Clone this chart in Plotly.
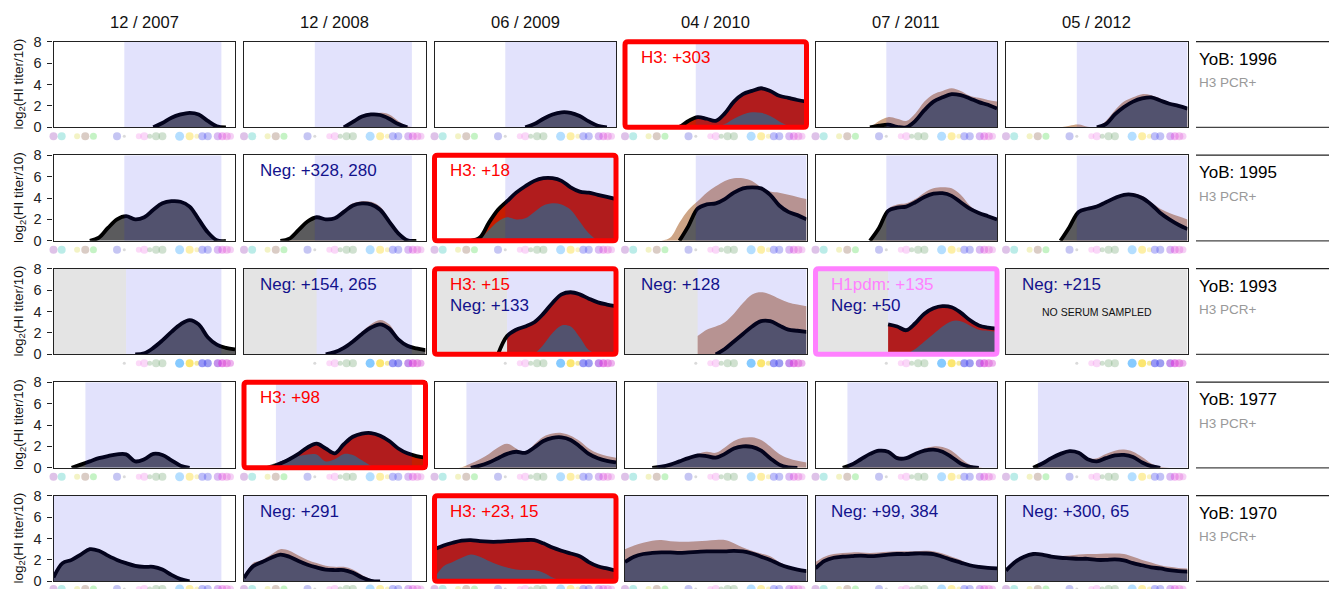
import plotly.graph_objects as go

# ---------------------------------------------------------------- data
SAMPLE_DATES = ["12 / 2007", "12 / 2008", "06 / 2009", "04 / 2010", "07 / 2011", "05 / 2012"]
BIRTH_YEARS = [1996, 1995, 1993, 1977, 1970]
PCR_STATUS = ["H3 PCR+", "H3 PCR+", "H3 PCR+", "H3 PCR+", "H3 PCR+"]

# strain axis (ordered by isolation), 0 = oldest strain, 1 = newest
STRAIN_POS = [0.00, 0.05, 0.10, 0.15, 0.20, 0.25, 0.30, 0.35, 0.40, 0.45, 0.50,
              0.55, 0.60, 0.65, 0.70, 0.75, 0.80, 0.85, 0.90, 0.95, 1.00]

# log2(HI titer/10) landscapes, one list per sample date
TITER_1996 = [
    [0, 0, 0, 0, 0, 0, 0, 0, 0, 0, 0, 0, 0.4, 0.9, 1.2, 1.35, 1.2, 0.6, 0.1, 0, 0],
    [0, 0, 0, 0, 0, 0, 0, 0, 0, 0, 0, 0, 0.5, 1.0, 1.2, 1.15, 0.8, 0.3, 0, 0, 0],
    [0, 0, 0, 0, 0, 0, 0, 0, 0, 0, 0, 0.3, 0.8, 1.2, 1.4, 1.35, 1.05, 0.55, 0.15, 0, 0],
    [0, 0, 0, 0, 0, 0, 0.05, 0.6, 0.95, 0.8, 0.6, 1.3, 2.4, 3.1, 3.4, 3.65, 3.4, 2.95, 2.75, 2.55, 2.4],
    [0, 0, 0, 0, 0, 0, 0, 0.15, 0.25, 0.05, 0, 0.6, 1.6, 2.4, 2.8, 3.1, 3.0, 2.7, 2.35, 2.1, 1.75],
    [0, 0, 0, 0, 0, 0, 0, 0, 0, 0, 0, 0.3, 1.2, 1.9, 2.4, 2.7, 2.8, 2.5, 2.2, 2.0, 1.75],
]
TITER_1995 = [
    [0, 0, 0, 0, 0, 0.3, 1.2, 2.0, 2.3, 2.0, 2.2, 2.9, 3.5, 3.7, 3.65, 3.2, 2.0, 0.8, 0.05, 0, 0],
    [0, 0, 0, 0, 0, 0.2, 1.0, 1.8, 2.2, 2.0, 2.1, 2.7, 3.3, 3.5, 3.4, 2.9, 1.8, 0.7, 0.05, 0, 0],
    [0, 0, 0, 0, 0, 0.3, 1.7, 2.9, 3.7, 4.5, 5.1, 5.6, 5.85, 5.85, 5.6, 5.0, 4.6, 4.5, 4.3, 4.1, 3.9],
    [0, 0, 0, 0, 0, 0, 0, 1.4, 3.0, 3.4, 3.5, 3.9, 4.5, 4.9, 5.0, 4.9, 4.3, 3.3, 2.7, 2.4, 2.0],
    [0, 0, 0, 0, 0, 0, 0, 1.2, 2.8, 3.1, 3.2, 3.6, 4.1, 4.4, 4.45, 4.2, 3.6, 3.0, 2.6, 2.3, 2.0],
    [0, 0, 0, 0, 0, 0, 0, 1.3, 2.7, 3.0, 3.2, 3.6, 4.0, 4.3, 4.3, 4.0, 3.4, 2.6, 2.0, 1.5, 1.1],
]
TITER_1993 = [
    [0, 0, 0, 0, 0, 0, 0, 0, 0, 0, 0.1, 0.6, 1.3, 2.1, 2.8, 3.2, 2.8, 1.6, 0.9, 0.6, 0.45],
    [0, 0, 0, 0, 0, 0, 0, 0, 0, 0, 0.2, 0.6, 1.2, 1.9, 2.5, 2.8, 2.4, 1.4, 0.8, 0.55, 0.4],
    [0, 0, 0, 0, 0, 0, 0, 0, 1.7, 2.3, 2.6, 3.0, 3.8, 4.8, 5.6, 5.8, 5.6, 5.2, 4.85, 4.65, 4.5],
    [0, 0, 0, 0, 0, 0, 0, 0, 0, 0, 0, 0.5, 1.2, 1.9, 2.6, 3.1, 3.1, 2.7, 2.3, 2.2, 2.1],
    [None, None, None, None, None, None, None, None, 2.8, 2.6, 2.25, 2.9, 3.8, 4.3, 4.5, 4.4, 3.9, 3.2, 2.7, 2.5, 2.4],
    [None] * 21,
]
TITER_1977 = [
    [0, 0, 0, 0.3, 0.6, 0.9, 1.1, 1.25, 1.25, 0.6, 0.8, 1.3, 1.2, 0.7, 0.2, 0, 0, 0, 0, 0, 0],
    [0, 0, 0, 0.05, 0.4, 0.8, 1.3, 1.9, 2.25, 1.8, 1.35, 2.2, 2.9, 3.2, 3.25, 3.0, 2.5, 1.8, 1.35, 1.1, 0.95],
    [0, 0, 0, 0, 0, 0.2, 0.5, 0.9, 1.3, 1.5, 1.4, 1.9, 2.5, 2.8, 2.85, 2.6, 2.0, 1.3, 0.9, 0.65, 0.5],
    [0, 0, 0, 0, 0.1, 0.3, 0.6, 0.9, 1.15, 1.1, 0.95, 1.3, 1.8, 2.0, 1.95, 1.6, 0.9, 0.3, 0.05, 0, 0],
    [0, 0, 0, 0, 0.3, 0.8, 1.3, 1.6, 1.5, 0.9, 0.9, 1.3, 1.6, 1.7, 1.5, 1.0, 0.4, 0.1, 0, 0, 0],
    [0, 0, 0, 0, 0.4, 0.9, 1.3, 1.55, 1.4, 0.8, 0.6, 0.9, 1.15, 1.2, 1.0, 0.5, 0.15, 0, 0, 0, 0],
]
TITER_1970 = [
    [0.35, 1.7, 2.0, 2.5, 3.0, 2.85, 2.4, 2.0, 1.7, 1.45, 1.35, 1.35, 1.1, 0.6, 0.2, 0, 0, 0, 0, 0, 0],
    [0.3, 1.4, 1.8, 2.2, 2.5, 2.3, 1.9, 1.55, 1.3, 1.1, 1.05, 1.05, 0.8, 0.35, 0.05, 0, 0, 0, 0, 0, 0],
    [3.0, 3.35, 3.6, 3.8, 3.85, 3.75, 3.7, 3.7, 3.75, 3.8, 3.85, 3.85, 3.55, 3.15, 2.85, 2.6, 2.35, 1.8, 1.4, 1.2, 1.0],
    [1.8, 2.3, 2.55, 2.65, 2.7, 2.7, 2.65, 2.7, 2.75, 2.8, 2.8, 2.8, 2.85, 2.8, 2.6, 2.3, 2.0, 1.6, 1.3, 1.1, 0.95],
    [1.2, 1.9, 2.2, 2.3, 2.35, 2.4, 2.35, 2.4, 2.5, 2.55, 2.55, 2.6, 2.6, 2.55, 2.3, 2.0, 1.75, 1.5, 1.35, 1.25, 1.2],
    [1.0, 1.8, 2.3, 2.55, 2.5, 2.3, 2.2, 2.15, 2.1, 2.1, 2.0, 2.0, 2.05, 1.95, 1.7, 1.5, 1.3, 1.2, 1.05, 0.95, 0.9],
]
TITERS = [TITER_1996, TITER_1995, TITER_1993, TITER_1977, TITER_1970]

# pre-infection landscape for the 06/2009 sample of the 1993 participant
PRIOR_1993_0609 = [0, 0, 0, 0, 0, 0, 0, 0, 0, 0, 0, 0, 0.9, 2.0, 2.7, 2.6, 1.6, 0.4, 0, 0, 0]

# strains circulating within each participant's lifetime
LIFETIME_START = [0.39, 0.39, 0.40, 0.176, 0.0]
SAMPLE_STRAIN_END = [0.925, 0.925, 1.0, 1.0, 1.0, 1.0]
UNSAMPLED_ROW = 2          # 1993 participant: strains before the cohort range not tested
UNSAMPLED_END = 0.40
NO_SERUM_PANEL = (2, 5)

INFECTED_PANEL = [(0, 3), (1, 2), (2, 2), (2, 4), (3, 1), (4, 2)]
INFECTED_SUBTYPE = ["H3", "H3", "H3", "H1pdm", "H3", "H3"]

NOTE_PANEL = [(0, 3), (1, 1), (1, 2), (2, 1), (2, 2), (2, 2), (2, 3), (2, 4), (2, 4),
              (2, 5), (3, 1), (4, 1), (4, 2), (4, 4), (4, 5)]
NOTE_TEXT = ["H3: +303", "Neg: +328, 280", "H3: +18", "Neg: +154, 265", "H3: +15", "Neg: +133",
             "Neg: +128", "H1pdm: +135", "Neg: +50", "Neg: +215", "H3: +98", "Neg: +291",
             "H3: +23, 15", "Neg: +99, 384", "Neg: +300, 65"]
NOTE_LINE = [0, 0, 0, 0, 0, 1, 0, 0, 1, 0, 0, 0, 0, 0, 0]

# strain isolation markers under each panel
DOT_POS = [0.0, 0.045, 0.13, 0.175, 0.22, 0.35, 0.39, 0.47, 0.50, 0.53, 0.565, 0.60,
           0.695, 0.75, 0.79, 0.82, 0.85, 0.905, 0.93, 0.955, 0.975, 1.005]
DOT_COLOR = [(160, 80, 190), (60, 200, 190), (220, 220, 90), (150, 110, 90), (90, 220, 90),
             (90, 90, 220), (150, 150, 150), (245, 150, 235), (240, 140, 235), (120, 170, 120),
             (120, 170, 120), (120, 170, 120), (40, 160, 255), (250, 210, 0), (240, 220, 80),
             (70, 70, 240), (80, 80, 230), (150, 60, 220), (220, 50, 220), (220, 90, 210),
             (225, 120, 225), (180, 140, 220)]
DOT_SIZE = [8, 8, 6, 8, 7, 8, 3, 6, 8, 5, 8, 8, 9, 8, 5, 8, 8, 8, 8, 8, 7, 5]

# ---------------------------------------------------------------- style
W, H = 1329, 589
COL_LEFT0, COL_STEP, PANEL_W = 53.5, 190.5, 181.5
ROW_TOP0, ROW_STEP, PANEL_H = 41.7, 113.5, 85.6
FONT = "Liberation Sans, Arial, sans-serif"

LAVENDER = "rgba(20,20,230,0.125)"
UNSAMPLED_GREY = "#e4e4e4"
CURRENT_FILL = "rgb(91,91,93)"
PRIOR_FILL = "rgb(206,165,134)"
BOOST_FILL = "rgb(199,29,0)"
SUBTYPE_COLOR = {"H3": "#ff0000", "H1pdm": "#ff80ff", "Neg": "#12128c"}


def px_x(x):
    return x / W


def px_y(y):
    return 1 - y / H


def curve_points(vals, x_min=None):
    xs, ys = [], []
    for x, v in zip(STRAIN_POS, vals):
        if v is None or (x_min is not None and x < x_min - 1e-9):
            continue
        xs.append(x)
        ys.append(v)
    if not ys:
        return xs, ys
    i0 = 0
    while i0 + 1 < len(ys) and ys[i0] == 0 and ys[i0 + 1] == 0:
        i0 += 1
    i1 = len(ys) - 1
    while i1 - 1 >= 0 and ys[i1] == 0 and ys[i1 - 1] == 0:
        i1 -= 1
    return xs[i0:i1 + 1], ys[i0:i1 + 1]


def rounded_rect(x0, y0, x1, y1, rad):
    """SVG path (paper coords) of a rectangle given in pixels, with rounded corners."""
    rx, ry = rad / W, rad / H
    X0, X1 = px_x(x0), px_x(x1)
    Y0, Y1 = px_y(y0), px_y(y1)   # Y0 top, Y1 bottom
    return (f"M {X0 + rx},{Y0} L {X1 - rx},{Y0} Q {X1},{Y0} {X1},{Y0 - ry} "
            f"L {X1},{Y1 + ry} Q {X1},{Y1} {X1 - rx},{Y1} "
            f"L {X0 + rx},{Y1} Q {X0},{Y1} {X0},{Y1 + ry} "
            f"L {X0},{Y0 - ry} Q {X0},{Y0} {X0 + rx},{Y0} Z")


fig = go.Figure()
layout = {}
shapes = []
annotations = []

for r in range(5):
    top = ROW_TOP0 + ROW_STEP * r
    bottom = top + PANEL_H
    for c in range(6):
        n = r * 6 + c + 1
        xa = "x" if n == 1 else f"x{n}"
        ya = "y" if n == 1 else f"y{n}"
        yd = f"y{n + 30}"
        left = COL_LEFT0 + COL_STEP * c
        right = left + PANEL_W

        layout["xaxis" if n == 1 else f"xaxis{n}"] = dict(
            domain=[px_x(left), px_x(right)], range=[0, 1], anchor=ya, automargin=False,
            showgrid=False, zeroline=False, showticklabels=False, ticks="",
            showline=True, mirror=True, linecolor="#222", linewidth=1.1, fixedrange=True)
        yax = dict(
            domain=[px_y(bottom), px_y(top)], range=[0, 8], anchor=xa, automargin=False,
            showgrid=False, zeroline=False, showline=True, mirror=True,
            linecolor="#222", linewidth=1.1, fixedrange=True)
        if c == 0:
            yax.update(tickvals=[0, 2, 4, 6, 8], ticks="outside", ticklen=5, tickwidth=1,
                       tickcolor="#222", showticklabels=True, ticklabelstandoff=3,
                       ticklabeloverflow="allow",
                       tickfont=dict(family=FONT, size=14.5, color="#222"))
        else:
            yax.update(showticklabels=False, ticks="")
        layout["yaxis" if n == 1 else f"yaxis{n}"] = yax

        # thin strip under the panel that carries the strain markers
        if r < 4:
            strip = dict(domain=[px_y(bottom + 17), px_y(bottom + 1)], range=[-1, 1])
        else:
            strip = dict(domain=[0, px_y(bottom + 1)], range=[0, 1])
        layout[f"yaxis{n + 30}"] = dict(anchor=xa, visible=False, fixedrange=True,
                                        automargin=False, **strip)

        grey_row = (r == UNSAMPLED_ROW)
        no_serum = (r, c) == NO_SERUM_PANEL
        fill_min = UNSAMPLED_END if grey_row else None

        # background: untested range and lifetime strains
        if no_serum:
            shapes.append(dict(type="rect", xref=xa, yref=ya, x0=0, x1=1, y0=0, y1=8,
                               fillcolor=UNSAMPLED_GREY, line=dict(width=0), layer="below"))
        else:
            if grey_row:
                shapes.append(dict(type="rect", xref=xa, yref=ya, x0=0, x1=UNSAMPLED_END,
                                   y0=0, y1=8, fillcolor=UNSAMPLED_GREY,
                                   line=dict(width=0), layer="below"))
            shapes.append(dict(type="rect", xref=xa, yref=ya, x0=LIFETIME_START[r],
                               x1=SAMPLE_STRAIN_END[c], y0=0, y1=8, fillcolor=LAVENDER,
                               line=dict(width=0), layer="above"))

        current = TITERS[r][c]
        prior = TITERS[r][c - 1] if c > 0 else None
        if (r, c) == (2, 2):
            prior = PRIOR_1993_0609

        infected = (r, c) in INFECTED_PANEL

        def area(vals, color):
            xs, ys = curve_points(vals, fill_min)
            if len(xs) < 2:
                return
            fig.add_trace(go.Scatter(
                x=xs, y=ys, xaxis=xa, yaxis=ya, mode="lines", fill="tozeroy",
                fillcolor=color, line=dict(width=0, color=color, shape="spline"),
                hoverinfo="skip", showlegend=False))

        if not no_serum:
            if infected:
                area(current, BOOST_FILL)
                if prior is not None:
                    area(prior, CURRENT_FILL)
            else:
                if prior is not None:
                    area(prior, PRIOR_FILL)
                area(current, CURRENT_FILL)
            lx, ly = curve_points(current)
            if len(lx) >= 2:
                fig.add_trace(go.Scatter(
                    x=lx, y=ly, xaxis=xa, yaxis=ya, mode="lines",
                    line=dict(width=3.8, color="#000", shape="spline"),
                    hoverinfo="skip", showlegend=False))

        if infected:
            sub = INFECTED_SUBTYPE[INFECTED_PANEL.index((r, c))]
            shapes.append(dict(type="path", xref="paper", yref="paper",
                               path=rounded_rect(left, top, right, bottom, 3),
                               line=dict(width=5, color=SUBTYPE_COLOR[sub]), layer="above"))

        # strain isolation markers
        idx = [i for i in range(len(DOT_POS)) if (r != UNSAMPLED_ROW or DOT_POS[i] >= 0.385)]
        cols = []
        for i in idx:
            a = 0.5
            if r == UNSAMPLED_ROW and i >= 12:
                a = 0.8
            rc, gc, bc = DOT_COLOR[i]
            cols.append(f"rgba({rc},{gc},{bc},{a})")
        fig.add_trace(go.Scatter(
            x=[DOT_POS[i] for i in idx], y=[0] * len(idx), xaxis=xa, yaxis=yd,
            mode="markers", cliponaxis=False,
            marker=dict(size=[DOT_SIZE[i] for i in idx], color=cols, line=dict(width=0)),
            hoverinfo="skip", showlegend=False))

        if no_serum:
            annotations.append(dict(
                text="NO SERUM SAMPLED", xref="paper", yref="paper",
                x=px_x((left + right) / 2), y=px_y(top + 43), xanchor="center",
                yanchor="middle", showarrow=False,
                font=dict(family=FONT, size=10.5, color="#111")))

    # y-axis title for the row
    annotations.append(dict(
        text="log<sub>2</sub>(HI titer/10)", xref="paper", yref="paper",
        x=px_x(19), y=px_y(top + PANEL_H / 2), xanchor="center", yanchor="middle",
        textangle=-90, showarrow=False, font=dict(family=FONT, size=13.5, color="#111")))

    # participant label column
    annotations.append(dict(
        text=f"YoB: {BIRTH_YEARS[r]}", xref="paper", yref="paper",
        x=px_x(1197), y=px_y(top + 17.5), xanchor="left", yanchor="middle",
        showarrow=False, font=dict(family=FONT, size=17, color="#000")))
    annotations.append(dict(
        text=PCR_STATUS[r], xref="paper", yref="paper",
        x=px_x(1197), y=px_y(top + 41), xanchor="left", yanchor="middle",
        showarrow=False, font=dict(family=FONT, size=13.5, color="#999")))
    for yy, lc in ((top, "#222"), (bottom, "#444")):
        shapes.append(dict(type="line", xref="paper", yref="paper",
                           x0=px_x(1196), x1=1, y0=px_y(yy), y1=px_y(yy),
                           line=dict(width=1.3, color=lc)))

# sample date headers
for c, label in enumerate(SAMPLE_DATES):
    left = COL_LEFT0 + COL_STEP * c
    annotations.append(dict(
        text=label, xref="paper", yref="paper", x=px_x(left + PANEL_W / 2), y=px_y(22),
        xanchor="center", yanchor="middle", showarrow=False,
        font=dict(family=FONT, size=16.5, color="#111")))

# infection / seroconversion notes inside panels
for (r, c), text, line in zip(NOTE_PANEL, NOTE_TEXT, NOTE_LINE):
    left = COL_LEFT0 + COL_STEP * c
    top = ROW_TOP0 + ROW_STEP * r
    kind = text.split(":")[0]
    annotations.append(dict(
        text=text, xref="paper", yref="paper", x=px_x(left + 13.5),
        y=px_y(top + 15.5 + 21 * line), xanchor="left", yanchor="middle",
        showarrow=False, font=dict(family=FONT, size=17, color=SUBTYPE_COLOR[kind])))

fig.update_layout(
    width=W, height=H, autosize=False, margin=dict(l=0, r=0, t=0, b=0, autoexpand=False),
    paper_bgcolor="white", plot_bgcolor="white", showlegend=False,
    shapes=shapes, annotations=annotations, **layout)

fig.write_html("out.html")
